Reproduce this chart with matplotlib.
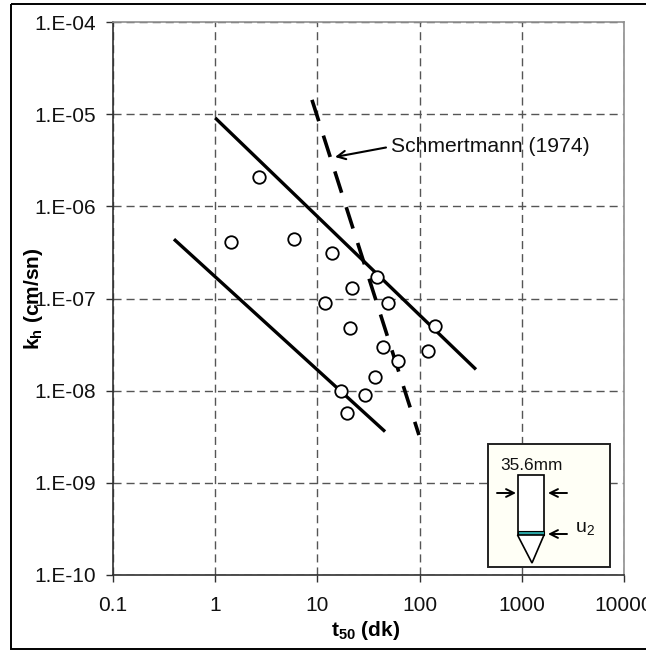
import matplotlib
matplotlib.use('Agg')
import matplotlib.pyplot as plt
from matplotlib.patches import Rectangle, Polygon
from matplotlib.ticker import FixedLocator, FixedFormatter, NullLocator

plt.rcParams['font.family'] = ['Liberation Sans', 'DejaVu Sans']
plt.rcParams['mathtext.fontset'] = 'custom'
plt.rcParams['mathtext.rm'] = 'Liberation Sans'
plt.rcParams['mathtext.bf'] = 'Liberation Sans:bold'

# olculen noktalar
t50 = [1.43, 2.68, 5.9, 13.9, 11.9, 21.8, 20.8, 38.3, 49, 141, 43.8, 61.5, 121, 36.6, 29.2, 17, 19.5]
kh = [4.1e-7, 2.08e-6, 4.4e-7, 3.1e-7, 8.9e-8, 1.3e-7, 4.8e-8, 1.7e-7, 8.9e-8, 5.0e-8, 3.0e-8, 2.1e-8,
      2.7e-8, 1.4e-8, 9.0e-9, 9.9e-9, 5.7e-9]

# sinir cizgileri
upper_x = [1.0, 356]
upper_y = [9.1e-6, 1.7e-8]
lower_x = [0.395, 45.9]
lower_y = [4.4e-7, 3.6e-9]
schm_x = [8.85, 98.6]
schm_y = [1.43e-5, 3.3e-9]

x_ticks = [0.1, 1, 10, 100, 1000, 10000]
x_labels = ['0.1', '1', '10', '100', '1000', '10000']
y_ticks = [1e-10, 1e-9, 1e-8, 1e-7, 1e-6, 1e-5, 1e-4]
y_labels = ['1.E-10', '1.E-09', '1.E-08', '1.E-07', '1.E-06', '1.E-05', '1.E-04']

W, H = 646, 651
fig = plt.figure(figsize=(W / 100, H / 100), dpi=100)
ax = fig.add_axes([113 / W, 1 - 575 / H, (624 - 113) / W, (575 - 22) / H])
ax.set_xscale('log')
ax.set_yscale('log')
ax.set_xlim(0.1, 10000)
ax.set_ylim(1e-10, 1e-4)

ax.xaxis.set_major_locator(FixedLocator(x_ticks))
ax.xaxis.set_major_formatter(FixedFormatter(x_labels))
ax.xaxis.set_minor_locator(NullLocator())
ax.yaxis.set_major_locator(FixedLocator(y_ticks))
ax.yaxis.set_major_formatter(FixedFormatter(y_labels))
ax.yaxis.set_minor_locator(NullLocator())
ax.tick_params(axis='both', length=5, width=1, color='#303030', labelsize=15, labelcolor='#111111')
ax.tick_params(axis='x', pad=10)
ax.tick_params(axis='y', pad=7)
ax.grid(True, color='#555555', lw=1, dashes=(5.8, 3.6))
ax.set_axisbelow(True)

for s in ['left', 'bottom']:
    ax.spines[s].set_color('#303030')
    ax.spines[s].set_linewidth(1.2)
for s in ['top', 'right']:
    ax.spines[s].set_color('#909090')
    ax.spines[s].set_linewidth(1.2)

ax.plot(upper_x, upper_y, color='black', lw=2.4, solid_capstyle='butt', zorder=3)
ax.plot(lower_x, lower_y, color='black', lw=2.4, solid_capstyle='butt', zorder=3)
ax.plot(schm_x, schm_y, color='black', lw=2.6, dashes=(6.2, 4.2), zorder=3)
ax.plot(t50, kh, 'o', ms=9, mfc='white', mec='black', mew=1.3, ls='none', zorder=4, clip_on=False)

ax.set_xlabel('t$_{\\mathbf{50}}$ (dk)', fontsize=15, fontweight='bold')
ax.set_ylabel('k$_{\\mathbf{h}}$ (cm/sn)', fontsize=15, fontweight='bold')
ax.xaxis.set_label_coords(0.494, -0.0796)
ax.yaxis.set_label_coords(-0.134, 0.5)

# cerceve ve sema icin piksel eksenli katman
over = fig.add_axes([0, 0, 1, 1], facecolor='none')
over.set_xlim(0, W)
over.set_ylim(H, 0)
over.axis('off')

over.add_patch(Rectangle((10.5, 3.5), 700, 645, fill=False, ec='black', lw=1.4))

over.text(391, 146, 'Schmertmann (1974)', fontsize=15.2, va='center', color='#111111')
over.annotate('', xy=(335, 157), xytext=(386, 147.5),
              arrowprops=dict(arrowstyle='->', color='black', lw=1.5, shrinkA=0, shrinkB=0, mutation_scale=15))

# sonda semasi
over.add_patch(Rectangle((487.5, 444), 122, 123, fc='#fffff6', ec='#222222', lw=1.4, zorder=2))
over.add_patch(Rectangle((517.5, 475), 26.5, 60, fc='white', ec='black', lw=1.2, zorder=3))
over.add_patch(Rectangle((517.5, 531), 26.5, 4, fc='#2aa6a6', ec='black', lw=0.8, zorder=3))
over.add_patch(Polygon([(517.5, 535), (544, 535), (532, 563)], closed=True, fc='white', ec='black', lw=1.2, zorder=3))
over.text(531, 465, '35.6mm', fontsize=12.4, ha='center', va='center', color='#111111', zorder=4)
over.text(575, 529, 'u$_2$', fontsize=14, ha='left', va='center', color='#111111', zorder=4)
for a, b in [((516, 493), (497, 493)), ((548, 493), (567, 493)), ((548, 534), (567, 534))]:
    over.annotate('', xy=a, xytext=b, zorder=4,
                  arrowprops=dict(arrowstyle='->', color='black', lw=1.4, shrinkA=0, shrinkB=0, mutation_scale=14))

fig.savefig('out.png', dpi=100)
